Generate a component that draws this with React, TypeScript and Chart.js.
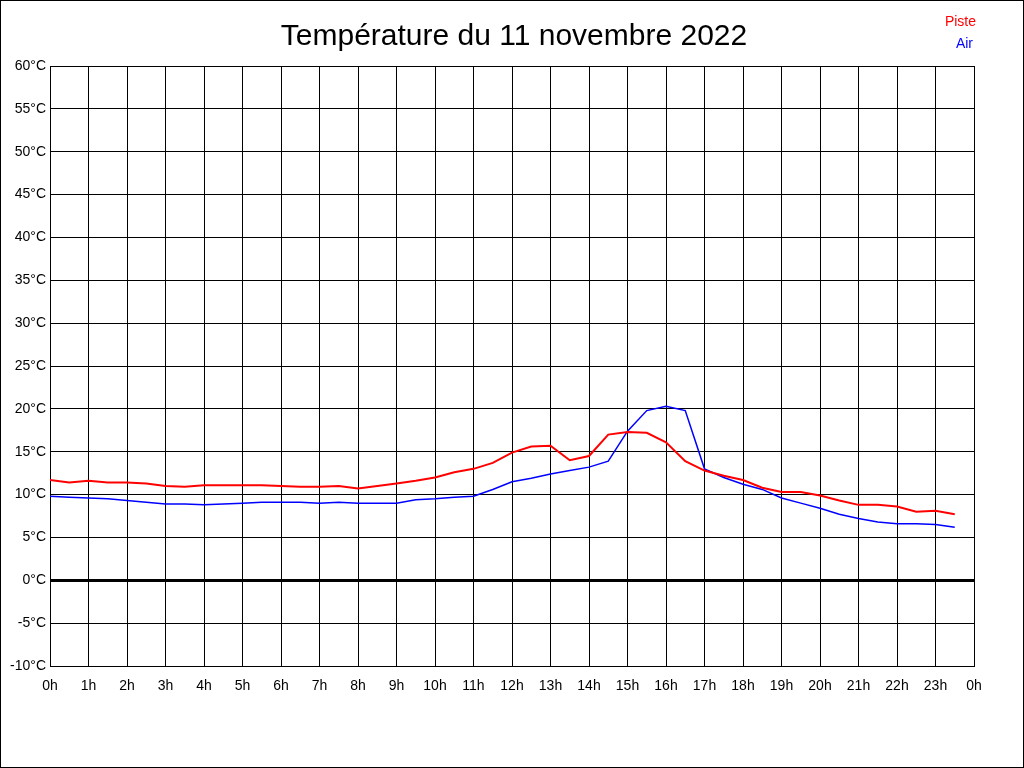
import { useRef, useEffect } from "react";
import { Chart, registerables } from "chart.js";
import type { Plugin } from "chart.js";

Chart.register(...registerables);

const TITLE = "Température du 11 novembre 2022";

// half-hour samples, 0h .. 23h30
const HOURS = [
    0, 0.5, 1, 1.5, 2, 2.5, 3, 3.5, 4, 4.5, 5, 5.5, 6, 6.5, 7, 7.5, 8, 8.5, 9, 9.5, 10, 10.5, 11, 11.5,
    12, 12.5, 13, 13.5, 14, 14.5, 15, 15.5, 16, 16.5, 17, 17.5, 18, 18.5, 19, 19.5, 20, 20.5, 21, 21.5,
    22, 22.5, 23, 23.5
];

const PISTE = [
    11.7, 11.4, 11.6, 11.4, 11.4, 11.3, 11.0, 10.9, 11.1, 11.1, 11.1, 11.1, 11.0, 10.9, 10.9, 11.0,
    10.7, 11.0, 11.3, 11.6, 12.0, 12.6, 13.0, 13.7, 14.9, 15.6, 15.7, 14.0, 14.5, 17.0, 17.3, 17.2,
    16.1, 13.9, 12.8, 12.2, 11.7, 10.8, 10.3, 10.3, 9.9, 9.3, 8.8, 8.8, 8.6, 8.0, 8.1, 7.7
];

const AIR = [
    9.8, 9.7, 9.6, 9.5, 9.3, 9.1, 8.9, 8.9, 8.8, 8.9, 9.0, 9.1, 9.1, 9.1, 9.0, 9.1,
    9.0, 9.0, 9.0, 9.4, 9.5, 9.7, 9.8, 10.6, 11.5, 11.9, 12.4, 12.8, 13.2, 13.9, 17.4, 19.8,
    20.3, 19.8, 13.0, 12.0, 11.2, 10.6, 9.6, 9.0, 8.4, 7.7, 7.2, 6.8, 6.6, 6.6, 6.5, 6.2
];

const Y_MIN = -10;
const Y_MAX = 60;
const Y_STEP = 5;
const X_MAX = 24;

const FONT = "'Liberation Sans', Arial, sans-serif";

// white background, outer frame, title and right-aligned text legend
const decorPlugin: Plugin<"line"> = {
    id: "decor",
    beforeDraw(chart) {
        const { ctx, width, height } = chart;
        ctx.save();
        ctx.fillStyle = "#fff";
        ctx.fillRect(0, 0, width, height);
        ctx.restore();
    },
    afterDraw(chart) {
        const { ctx, width, height } = chart;
        ctx.save();
        ctx.strokeStyle = "#000";
        ctx.lineWidth = 1;
        ctx.strokeRect(0.5, 0.5, width - 1, height - 1);

        ctx.fillStyle = "#000";
        ctx.font = `30px ${FONT}`;
        ctx.textAlign = "center";
        ctx.textBaseline = "middle";
        ctx.fillText(TITLE, 514, 37);

        ctx.font = `14px ${FONT}`;
        ctx.textAlign = "right";
        chart.data.datasets.forEach((ds, i) => {
            ctx.fillStyle = ds.borderColor as string;
            ctx.fillText(ds.label ?? "", i === 0 ? 976 : 973, 22 + i * 22);
        });
        ctx.restore();
    }
};

export default function App() {
    const canvasRef = useRef<HTMLCanvasElement>(null);

    useEffect(() => {
        document.body.style.margin = "0";
        const canvas = canvasRef.current;
        if (!canvas) return;

        const chart = new Chart(canvas, {
            type: "line",
            data: {
                datasets: [
                    {
                        label: "Piste",
                        data: HOURS.map((h, i) => ({ x: h, y: PISTE[i] })),
                        borderColor: "#ff0000",
                        borderWidth: 2,
                        pointRadius: 0,
                        tension: 0
                    },
                    {
                        label: "Air",
                        data: HOURS.map((h, i) => ({ x: h, y: AIR[i] })),
                        borderColor: "#0000ff",
                        borderWidth: 1.5,
                        pointRadius: 0,
                        tension: 0
                    }
                ]
            },
            options: {
                responsive: false,
                animation: false,
                devicePixelRatio: 1,
                layout: { padding: { top: 66, right: 50, left: 0, bottom: 0 } },
                scales: {
                    x: {
                        type: "linear",
                        min: 0,
                        max: X_MAX,
                        afterFit: scale => {
                            scale.height = 102;
                        },
                        ticks: {
                            stepSize: 1,
                            autoSkip: false,
                            maxRotation: 0,
                            color: "#000",
                            padding: 12,
                            font: { family: FONT, size: 14 },
                            callback: v => `${Number(v) % 24}h`
                        },
                        grid: { color: "#000", lineWidth: 1, drawTicks: false },
                        border: { color: "#000", width: 1 }
                    },
                    y: {
                        min: Y_MIN,
                        max: Y_MAX,
                        afterFit: scale => {
                            scale.width = 50;
                        },
                        ticks: {
                            stepSize: Y_STEP,
                            color: "#000",
                            padding: 4,
                            font: { family: FONT, size: 14 },
                            callback: v => `${v}°C`
                        },
                        grid: {
                            color: "#000",
                            lineWidth: c => (c.tick && c.tick.value === 0 ? 3 : 1),
                            drawTicks: false
                        },
                        border: { color: "#000", width: 1 }
                    }
                },
                plugins: {
                    legend: { display: false },
                    title: { display: false },
                    tooltip: { enabled: false }
                }
            },
            plugins: [decorPlugin]
        });

        return () => chart.destroy();
    }, []);

    return (
        <div style={{ width: 1024, height: 768 }}>
            <canvas ref={canvasRef} width={1024} height={768} />
        </div>
    );
}
